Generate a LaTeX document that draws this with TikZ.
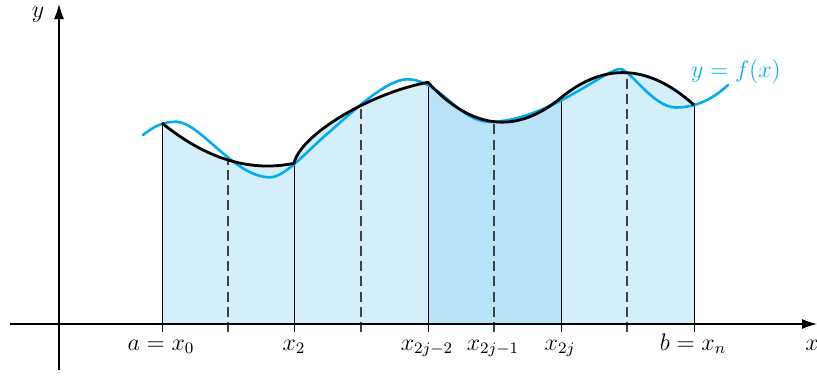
\documentclass[tikz,border=0pt]{standalone}
\usepackage{amsmath,amssymb}
\usepackage{xcolor}
\definecolor{CurveBlue}{HTML}{00AEEF}
\definecolor{LightFill}{HTML}{D4EEFA}
\definecolor{DarkFill}{HTML}{B9E3F8}
\definecolor{DashGray}{HTML}{404040}
\usepackage{tikz}
\usetikzlibrary{arrows.meta}
\tikzset{
  axisline/.style={
    -{Latex[length=7.5pt,width=5pt]},
    line width=0.65pt
  },
  ordline/.style={
    line width=0.5pt,
    draw=black
  },
  midline/.style={
    line width=0.8pt,
    draw=DashGray,
    dash pattern=on 5pt off 2.6pt
  },
  parabarc/.style={
    line width=1.4pt,
    line join=round
  },
  fcurve/.style={
    draw=CurveBlue,
    line width=1.3pt,
    line cap=round
  },
  ticklabel/.style={
    anchor=base,
    inner sep=0pt,
    font=\fontsize{11.5}{13}\selectfont
  }
}

\begin{document}
\begin{tikzpicture}[x=0.5pt,y=-0.5pt]
\useasboundingbox (0,0) rectangle (817,375);
% points on the parabolic arcs
\coordinate (P0) at (162,123);
\coordinate (P1) at (228,160);
\coordinate (P2) at (294,163.3);
\coordinate (P3) at (361,106);
\coordinate (P4) at (428,82.3);
\coordinate (P5) at (494,121.7);
\coordinate (P6) at (561,97.7);
\coordinate (P7) at (627,72.7);
\coordinate (P8) at (694,105);
% feet on the x-axis
\coordinate (A0) at (162,324);
\coordinate (A4) at (428,324);
\coordinate (A6) at (561,324);
\coordinate (A8) at (694,324);
% tick ends below the axis
\coordinate (T0) at (162,332);
\coordinate (T1) at (228,332);
\coordinate (T2) at (294,332);
\coordinate (T3) at (361,332);
\coordinate (T4) at (428,332);
\coordinate (T5) at (494,332);
\coordinate (T6) at (561,332);
\coordinate (T7) at (627,332);
\coordinate (T8) at (694,332);
% turning points of f
\coordinate (F0) at (143,135);
\coordinate (F1) at (176,121.7);
\coordinate (F2) at (270,177.3);
\coordinate (F2a) at (327,134);
\coordinate (F3) at (407,79.3);
\coordinate (F4) at (490,121.8);
\coordinate (F5) at (620,69);
\coordinate (F6) at (676,107.5);
\coordinate (F7) at (728,85);

\fill[LightFill] (A0) -- (P0)
  .. controls (206,158.9) and (250,172.3) .. (P2)
  .. controls (300,135) and (370,93) .. (P4)
  .. controls (471.7,129.7) and (516,134.8) .. (P6)
  .. controls (604.7,61.9) and (649,64.4) .. (P8)
  -- (A8) -- cycle;
\fill[DarkFill] (A4) -- (P4)
  .. controls (471.7,129.7) and (516,134.8) .. (P6)
  -- (A6) -- cycle;

\draw[ordline] (P0) -- (T0);
\draw[midline] (T1) -- (P1);
\draw[ordline] (P2) -- (T2);
\draw[midline] (T3) -- (P3);
\draw[ordline] (P4) -- (T4);
\draw[midline] (T5) -- (P5);
\draw[ordline] (P6) -- (T6);
\draw[midline] (T7) -- (P7);
\draw[ordline] (P8) -- (T8);

\coordinate (xstart) at (10,324);
\coordinate (xend) at (817,324);
\coordinate (ystart) at (59,370);
\coordinate (yend) at (59,4);
\draw[axisline] (xstart) -- (xend);
\draw[axisline] (ystart) -- (yend);

\draw[fcurve] (F0)
  .. controls (154,126) and (164,121.7) .. (F1)
  .. controls (200,121.7) and (234,177.3) .. (F2)
  .. controls (285,177.3) and (307,151) .. (F2a)
  .. controls (347,117) and (385,79.3) .. (F3)
  .. controls (440,79.3) and (458,121.8) .. (F4)
  .. controls (545,121.8) and (606,69) .. (F5)
  .. controls (630,69) and (653,107.5) .. (F6)
  .. controls (697,107.5) and (714,98) .. (F7);

\draw[parabarc] (P0)
  .. controls (206,158.9) and (250,172.3) .. (P2)
  .. controls (300,135) and (370,93) .. (P4)
  .. controls (471.7,129.7) and (516,134.8) .. (P6)
  .. controls (604.7,61.9) and (649,64.4) .. (P8);

\node[ticklabel] (lx0) at (161,350) {$a = x_0$};
\node[ticklabel] (lx2) at (294,350) {$x_2$};
\node[ticklabel] (lxa) at (427,350) {$x_{2j-2}$};
\node[ticklabel] (lxb) at (493,350) {$x_{2j-1}$};
\node[ticklabel] (lxc) at (560,350) {$x_{2j}$};
\node[ticklabel] (lxn) at (693,350) {$b = x_n$};
\node[ticklabel] (xlab) at (812,350) {$x$};
\node[ticklabel] (ylab) at (38,18) {$y$};
\node[ticklabel, text=CurveBlue] (flab) at (736,77) {$y = f(x)$};
\end{tikzpicture}
\end{document}
